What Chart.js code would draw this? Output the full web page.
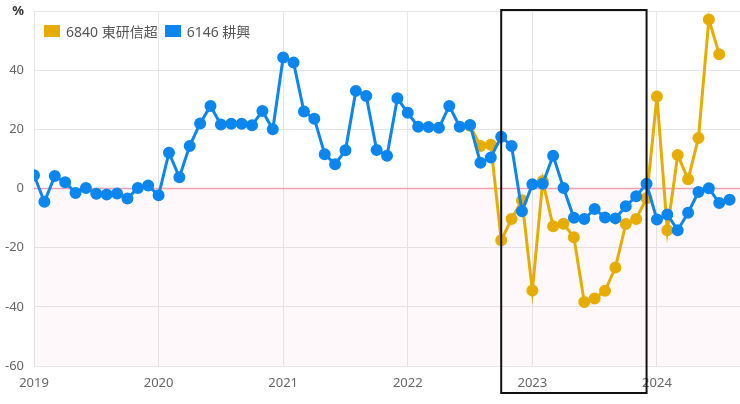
<!DOCTYPE html>
<html lang="zh-Hant">
<head>
    <meta charset="UTF-8">
    <title>6840 東研信超 / 6146 耕興</title>
    <script src="https://cdn.jsdelivr.net/npm/chart.js"></script>
    <style>
        body {
            margin: 0;
            background: #fff;
            font-family: "Noto Sans", "Noto Sans CJK TC", sans-serif;
        }
        .wrap {
            position: relative;
            width: 740px;
            height: 404px;
        }
        .legend {
            position: absolute;
            left: 44px;
            top: 21px;
            display: flex;
            align-items: center;
            font-size: 14px;
            color: #555;
        }
        .legend span.box {
            display: inline-block;
            width: 16px;
            height: 12px;
            margin-right: 6px;
        }
        .legend .item {
            display: flex;
            align-items: center;
            margin-right: 7px;
        }
    </style>
</head>
<body>
    <div class="wrap">
        <canvas id="chart" width="740" height="404"></canvas>
        <div class="legend" id="legend"></div>
    </div>

    <script>
        // 月份索引: 0 = 2019/01
        const startYear = 2019;
        const yearTicks = [2019, 2020, 2021, 2022, 2023, 2024];

        const gengxingName = '6146 耕興';
        const gengxing = [
            4.5, -4.5, 4.2, 2.1, -1.5, 0.2, -1.8, -2.0, -1.7, -3.4, 0.2, 1.0,
            -2.3, 12.1, 3.8, 14.4, 22.0, 27.9, 21.6, 21.9, 21.9, 21.4, 26.2, 20.0,
            44.3, 42.6, 26.0, 23.6, 11.6, 8.2, 12.9, 33.0, 31.3, 13.0, 11.1, 30.5,
            25.6, 20.9, 20.8, 20.5, 27.9, 20.9, 21.5, 8.7, 10.5, 17.5, 14.4, -7.7,
            1.4, 1.6, 11.1, 0.2, -9.9, -10.3, -6.9, -9.8, -10.1, -6.0, -2.6, 1.6,
            -10.5, -8.8, -14.1, -8.2, -1.2, 0.1, -4.9, -3.8
        ];

        const dongyanName = '6840 東研信超';
        const dongyanStart = 42;
        const dongyan = [
            21.2, 14.4, 14.8, -17.5, -10.3, -4.0,
            -34.5, 2.5, -12.8, -11.9, -16.5, -38.4, -37.2, -34.6, -26.7, -12.0, -10.3, -3.3,
            31.1, -14.1, 11.3, 3.1, 17.1, 57.1, 45.4
        ];

        // 框起來的期間 (月份索引)
        const boxFrom = 45;
        const boxTo = 59;

        const toPoints = (arr, offset) => arr.map((v, i) => ({ x: i + offset, y: v }));

        const yellow = '#e6ad00';
        const blue = '#0c86ef';

        // 0 以下淡粉紅底 + 0 線
        const zeroZone = {
            id: 'zeroZone',
            beforeDatasetsDraw(chart) {
                const { ctx, chartArea, scales } = chart;
                const y0 = scales.y.getPixelForValue(0);
                ctx.save();
                ctx.fillStyle = 'rgba(255, 120, 150, 0.05)';
                ctx.fillRect(chartArea.left, y0, chartArea.right - chartArea.left, chartArea.bottom - y0);
                ctx.strokeStyle = '#f2a0ae';
                ctx.lineWidth = 1.5;
                ctx.beginPath();
                ctx.moveTo(chartArea.left, y0);
                ctx.lineTo(chartArea.right, y0);
                ctx.stroke();
                ctx.restore();
            }
        };

        const frameBox = {
            id: 'frameBox',
            afterDraw(chart) {
                const { ctx, chartArea, scales } = chart;
                const x1 = scales.x.getPixelForValue(boxFrom);
                const x2 = scales.x.getPixelForValue(boxTo);
                ctx.save();
                ctx.strokeStyle = '#111';
                ctx.lineWidth = 2;
                ctx.strokeRect(x1, chartArea.top - 1, x2 - x1, chart.height - 10 - chartArea.top);
                ctx.restore();
            }
        };

        const chart = new Chart(document.getElementById('chart'), {
            type: 'line',
            data: {
                datasets: [
                    {
                        label: dongyanName,
                        data: toPoints(dongyan, dongyanStart),
                        borderColor: yellow,
                        backgroundColor: yellow,
                        borderWidth: 3,
                        pointRadius: 4.5,
                        pointHoverRadius: 5,
                        tension: 0,
                        order: 1
                    },
                    {
                        label: gengxingName,
                        data: toPoints(gengxing, 0),
                        borderColor: blue,
                        backgroundColor: blue,
                        borderWidth: 3,
                        pointRadius: 4.5,
                        pointHoverRadius: 5,
                        tension: 0,
                        order: 0
                    }
                ]
            },
            options: {
                responsive: false,
                animation: false,
                layout: { autoPadding: false, padding: { top: 11, right: 0, left: 0, bottom: 0 } },
                plugins: {
                    legend: { display: false },
                    tooltip: { enabled: false }
                },
                scales: {
                    x: {
                        type: 'linear',
                        min: 0,
                        max: 68,
                        afterBuildTicks(scale) {
                            scale.ticks = yearTicks.map(y => ({ value: (y - startYear) * 12 }));
                        },
                        afterFit(scale) {
                            scale.height = 38;
                            scale.paddingRight = 0;
                            scale.paddingLeft = 0;
                        },
                        grid: { color: '#e6e6e6', drawTicks: false },
                        border: { display: false },
                        ticks: {
                            padding: 9,
                            color: '#666',
                            font: { size: 13, family: '"Noto Sans", sans-serif' },
                            callback: v => String(startYear + v / 12)
                        }
                    },
                    y: {
                        min: -60,
                        max: 60,
                        afterFit(scale) {
                            scale.width = 34;
                            scale.paddingTop = 0;
                        },
                        grid: { color: '#e6e6e6', drawTicks: false },
                        border: { display: false },
                        ticks: {
                            stepSize: 20,
                            padding: 10,
                            color: ctx => ctx.tick && ctx.tick.value === 60 ? '#333' : '#666',
                            font: ctx => ({
                                size: 13,
                                family: '"Noto Sans", sans-serif',
                                weight: ctx.tick && ctx.tick.value === 60 ? 'bold' : 'normal'
                            }),
                            callback: v => v === 60 ? '%' : v
                        }
                    }
                }
            },
            plugins: [zeroZone, frameBox]
        });

        // HTML 圖例 (疊在圖內左上)
        const legendEl = document.getElementById('legend');
        chart.data.datasets.forEach(ds => {
            const item = document.createElement('div');
            item.className = 'item';
            item.innerHTML = `<span class="box" style="background:${ds.borderColor}"></span>${ds.label}`;
            legendEl.appendChild(item);
        });
    </script>
</body>
</html>
